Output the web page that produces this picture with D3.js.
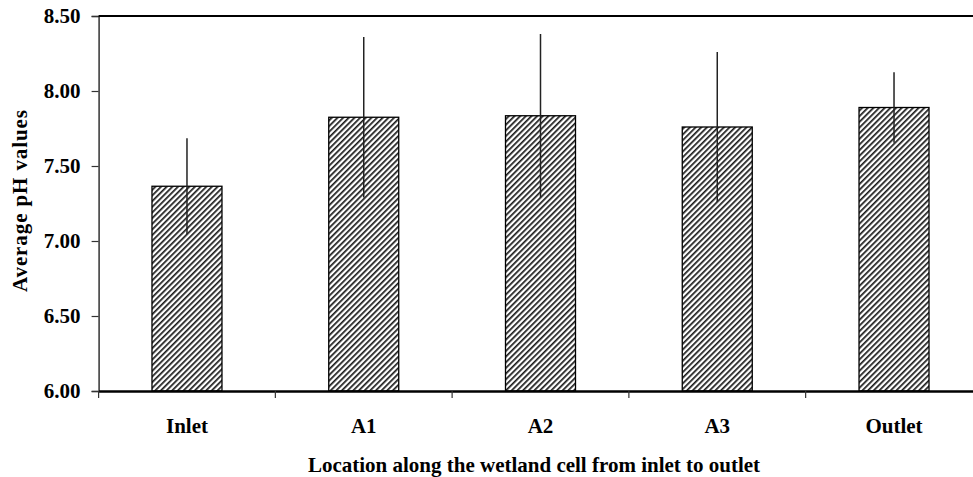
<!DOCTYPE html>
<html>
<head>
<script src="https://d3js.org/d3.v7.min.js" charset="utf-8"></script>
<meta charset="utf-8"/>
<style>
body {
  margin: 0;
  overflow: hidden;
  background: #fff;
}
text {
  font-family: "Liberation Serif", "Times New Roman", serif;
  font-weight: bold;
  fill: #000;
}
</style>
</head>
<body>
<svg id="svg" width="973" height="477"></svg>
<script>

// data
var categories = ["Inlet", "A1", "A2", "A3", "Outlet"];
var meanPH = [7.365, 7.825, 7.835, 7.76, 7.89];
var errPH = [0.32, 0.535, 0.545, 0.50, 0.235];
var yTicks = [6.00, 6.50, 7.00, 7.50, 8.00, 8.50];

var xTitle = "Location along the wetland cell from inlet to outlet";
var yTitle = "Average pH values";

var margin = { left: 98.6, right: -9.4, top: 16, bottom: 86 },
    width = 973 - margin.left - margin.right,
    height = 477 - margin.top - margin.bottom;

var svg = d3.select("#svg");

// hatch fill
var defs = svg.append("defs");
defs.append("pattern")
    .attr("id", "hatch")
    .attr("patternUnits", "userSpaceOnUse")
    .attr("width", 4)
    .attr("height", 4)
    .attr("patternTransform", "rotate(45)")
  .append("rect")
    .attr("x", 0)
    .attr("y", 0)
    .attr("width", 1.7)
    .attr("height", 4)
    .attr("fill", "#1a1a1a");

var g = svg.append("g")
    .attr("transform", "translate(" + margin.left + "," + margin.top + ")");

var x = d3.scaleBand()
    .domain(categories)
    .range([0, width])
    .paddingInner(0.604)
    .paddingOuter(0.302);

var y = d3.scaleLinear()
    .domain([6, 8.5])
    .range([height, 0]);

// y axis
var yAxisG = g.append("g")
    .call(d3.axisLeft(y).tickValues(yTicks).tickFormat(d3.format(".2f")).tickSize(7).tickPadding(11));
yAxisG.select(".domain").attr("stroke", "#333").attr("stroke-width", 1.5);
yAxisG.selectAll(".tick line").attr("stroke", "#333").attr("stroke-width", 1.2);
yAxisG.selectAll("text")
    .style("font-size", "21px")
    .style("font-family", "Liberation Serif, serif")
    .style("font-weight", "bold")
    .attr("fill", "#000");

// top border
g.append("line")
    .attr("x1", 0).attr("x2", width)
    .attr("y1", 0).attr("y2", 0)
    .attr("stroke", "#000")
    .attr("stroke-width", 2);

// bars
g.selectAll(".bar")
    .data(categories)
    .enter().append("rect")
    .attr("class", "bar")
    .attr("x", function(d) { return x(d); })
    .attr("y", function(d, i) { return y(meanPH[i]); })
    .attr("width", x.bandwidth())
    .attr("height", function(d, i) { return y(6) - y(meanPH[i]); })
    .attr("fill", "url(#hatch)")
    .attr("stroke", "#000")
    .attr("stroke-width", 1.3);

// error bars, no caps
g.selectAll(".err")
    .data(categories)
    .enter().append("line")
    .attr("class", "err")
    .attr("x1", function(d) { return x(d) + x.bandwidth() / 2; })
    .attr("x2", function(d) { return x(d) + x.bandwidth() / 2; })
    .attr("y1", function(d, i) { return y(meanPH[i] - errPH[i]); })
    .attr("y2", function(d, i) { return y(meanPH[i] + errPH[i]); })
    .attr("stroke", "#222")
    .attr("stroke-width", 1.5);

// x axis: labels at centres, ticks between categories
var xAxisG = g.append("g")
    .attr("transform", "translate(0," + height + ")")
    .call(d3.axisBottom(x).tickSize(0).tickPadding(27));
xAxisG.select(".domain").attr("stroke", "#000").attr("stroke-width", 2.3);
xAxisG.selectAll("text")
    .style("font-size", "21px")
    .style("font-family", "Liberation Serif, serif")
    .style("font-weight", "bold")
    .attr("fill", "#000");

var bounds = d3.range(categories.length + 1).map(function(i) { return i * x.step(); });
xAxisG.selectAll(".btick")
    .data(bounds)
    .enter().append("line")
    .attr("class", "btick")
    .attr("x1", function(d) { return d; })
    .attr("x2", function(d) { return d; })
    .attr("y1", 0)
    .attr("y2", 7)
    .attr("stroke", "#333")
    .attr("stroke-width", 1.2);

// titles
svg.append("text")
    .attr("x", 534)
    .attr("y", 472)
    .attr("text-anchor", "middle")
    .style("font-size", "21px")
    .text(xTitle);

svg.append("text")
    .attr("transform", "translate(27,201) rotate(-90)")
    .attr("text-anchor", "middle")
    .attr("textLength", 182)
    .attr("lengthAdjust", "spacing")
    .style("font-size", "21px")
    .text(yTitle);

</script>
</body>
</html>
